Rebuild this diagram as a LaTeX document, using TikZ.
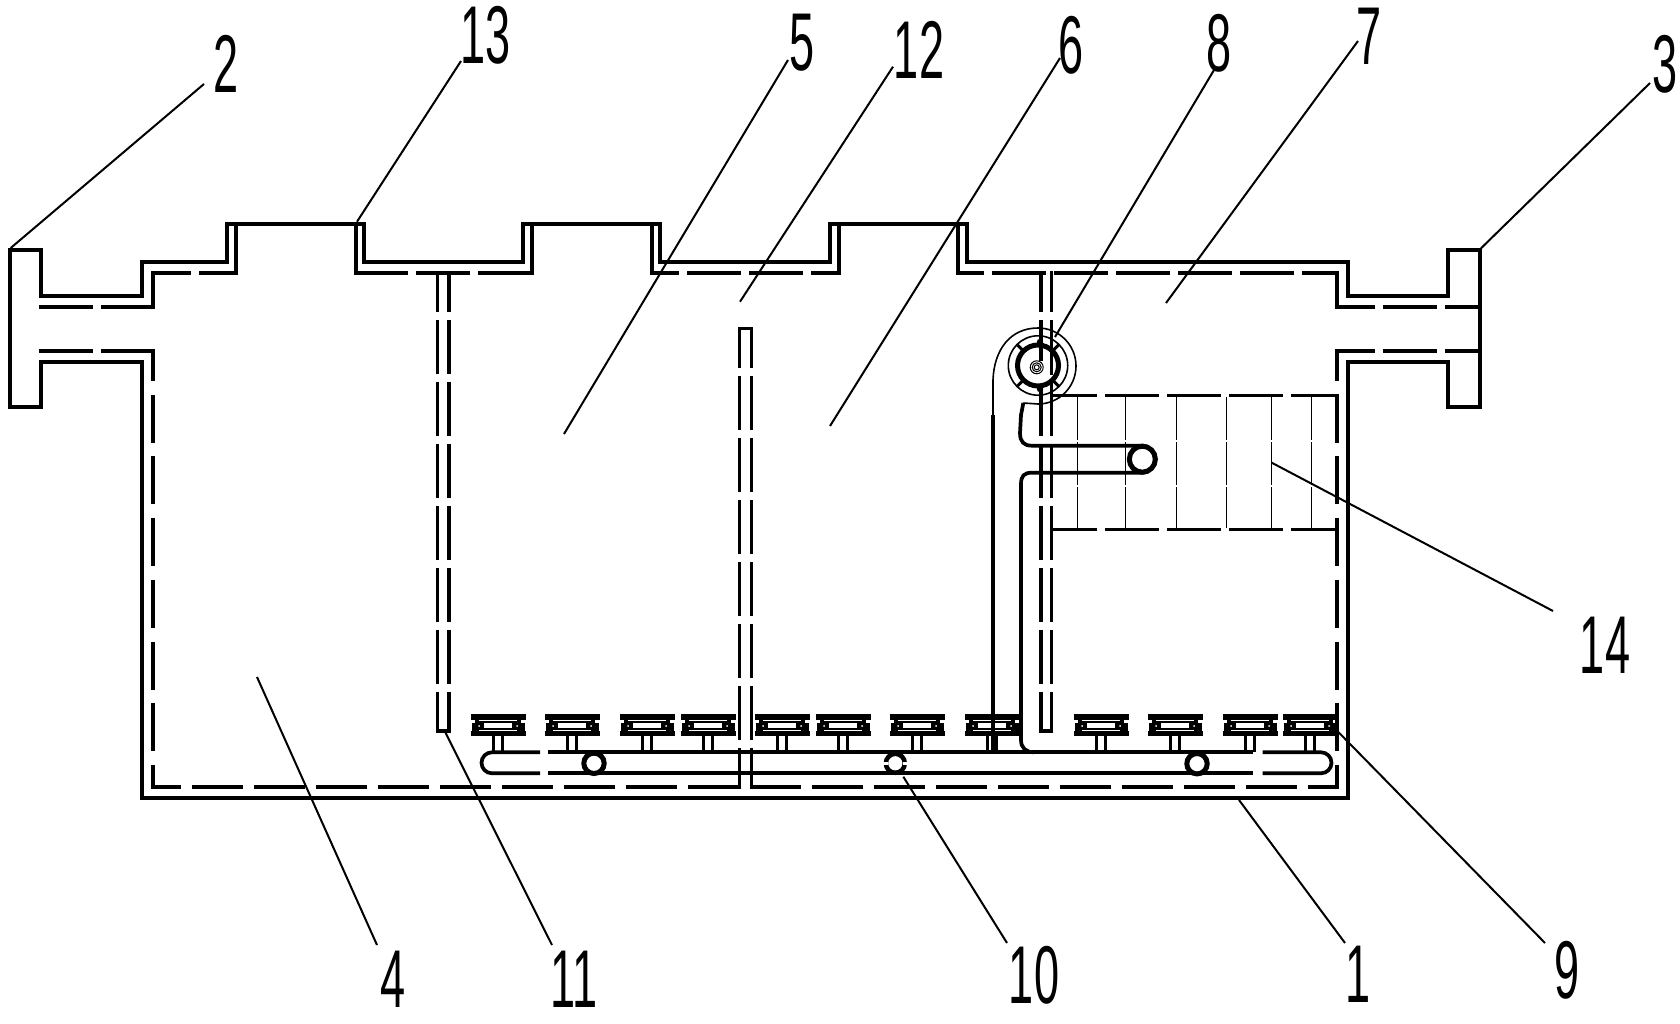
\documentclass[tikz,border=0pt]{standalone}
\usepackage{fontspec}
\setmainfont{Liberation Sans}
\tikzset{
  wall/.style={line width=3.7pt, line join=miter},
  inner/.style={line width=3.4pt, line cap=rect},
  hid/.style={inner, dash pattern=on 50.6pt off 11.4pt},
  vhid/.style={inner, dash pattern=on 44.6pt off 17.1pt},
  bhid/.style={inner, dash pattern=on 47.6pt off 14.4pt},
  leader/.style={line width=2pt},
  hair/.style={line width=1pt, dash pattern=on 43pt off 2pt},
  tag/.style={inner sep=0pt, font=\fontsize{82}{82}\selectfont}
}
\begin{document}
\begin{tikzpicture}[x=1pt, y=-1pt]
        \useasboundingbox[fill=white] (0,0) rectangle (1680,1024);
        \draw[wall] (41,250) -- (10,250) -- (10,407) -- (41,407) -- (41,362) -- (142,362) -- (142,798) -- (1348,798) -- (1348,362) -- (1448,362) -- (1448,407) -- (1480,407) -- (1480,250) -- (1448,250) -- (1448,296) -- (1348,296) -- (1348,262) -- (967,262) -- (967,224) -- (830,224) -- (830,262) -- (660,262) -- (660,224) -- (523,224) -- (523,262) -- (364,262) -- (364,224) -- (227,224) -- (227,262) -- (142,262) -- (142,296) -- (41,296) -- cycle;
        \draw[hid, dash phase=0.3pt] (41,307) -- (153,307);
        \draw[hid, dash phase=0.3pt] (41,351) -- (153,351);
        \draw[inner] (153,307) -- (153,273);
        \draw[inner] (236,273) -- (236,226);
        \draw[inner] (356,226) -- (356,273);
        \draw[inner] (532,273) -- (532,226);
        \draw[inner] (652,226) -- (652,273);
        \draw[inner] (839,273) -- (839,226);
        \draw[inner] (958,226) -- (958,273);
        \draw[inner] (1337,273) -- (1337,307);
        \draw[hid, dash phase=14.3pt] (153,273) -- (236,273);
        \draw[hid] (356,273) -- (532,273);
        \draw[hid, dash phase=25.3pt] (652,273) -- (839,273);
        \draw[hid, dash phase=26.3pt] (958,273) -- (1337,273);
        \draw[hid, dash phase=14.3pt] (1337,307) -- (1478,307);
        \draw[hid, dash phase=14.3pt] (1337,351) -- (1478,351);
        \draw[vhid, dash phase=16.3pt] (153,351) -- (153,787);
        \draw[vhid, dash phase=16.3pt] (1337,351) -- (1337,787);
        \draw[bhid, dash phase=21.3pt] (153,787) -- (739.3,787);
        \draw[bhid] (751.3,787) -- (1337,787);
        \foreach \wx in {437.5,449,1041,1051.7}
            \draw[hid, dash phase=13.6pt] (\wx,273) -- (\wx,731);
        \draw[inner] (437.5,731) -- (449,731);
        \draw[inner] (1041,731) -- (1051.7,731);
        \foreach \wx in {739.3,751.3}
            \draw[hid, dash phase=13pt] (\wx,328.5) -- (\wx,787);
        \draw[inner] (739.3,328.5) -- (751.3,328.5);
        \draw[hid, dash phase=7pt] (1051.7,395.7) -- (1337,395.7);
        \draw[hid, dash phase=7pt] (1051.7,529.7) -- (1337,529.7);
        \foreach \hx in {1077.3,1125.3,1176.3,1226.3,1271.3,1311.3}
            \draw[hair] (\hx,397) -- (\hx,528);
        \foreach \cx in {498,572,647,708,782,843,917,992,1101,1175,1250,1310} {
            \begin{scope}[shift={(\cx,0)}]
                \fill (-27.5,714) rectangle (27.5,719.5);
                \fill (-27.5,731) rectangle (27.5,736);
                \fill (-23,719) rectangle (-14,731.5);
                \fill (14,719) rectangle (23,731.5);
                \fill (-26.5,722.5) rectangle (-23,731.5);
                \fill (23,722.5) rectangle (26.5,731.5);
                \fill (-14,720.8) rectangle (14,722.8);
                \fill (-14,727.8) rectangle (14,729.8);
                \fill[white] (-19,719.6) rectangle (19,720.6);
                \fill[white] (-19,729.9) rectangle (19,730.9);
                \fill[white] (-19,726) circle (1);
                \fill[white] (19,726) circle (1);
                \draw[line width=3pt] (-4.7,736) -- (-4.7,752);
                \draw[line width=3pt] (4.7,736) -- (4.7,752);
            \end{scope}
        }
        \draw[wall] (540,752.3) -- (492,752.3) arc[start angle=-90, end angle=-270, radius=10.5] -- (540,773.3);
        \draw[wall] (548,752.3) -- (1253,752.3);
        \draw[wall] (548,773.3) -- (1253,773.3);
        \draw[wall] (1262.7,752.3) -- (1321,752.3) arc[start angle=-90, end angle=90, radius=10.5] -- (1262.7,773.3);
        \draw[line width=5pt, fill=white] (594,763.3) circle (10.2);
        \draw[line width=5pt, fill=white] (1197,763.7) circle (10.2);
        \draw[line width=4.5pt, fill=white] (895.3,763.3) circle (9.5);
        \fill[white] (881,761.5) rectangle (888,765);
        \fill[white] (902.5,761.5) rectangle (909.5,765);
        \draw[line width=4pt] (993,415) -- (993,752);
        \draw[wall] (1023.3,403) -- (1021,415) -- (1020,433) .. controls (1020,442) and (1024,445.7) .. (1032,445.7) -- (1142,445.7) arc[start angle=-90, end angle=90, radius=13.5] -- (1032,472.7) .. controls (1024,472.7) and (1021,476) .. (1021,484) -- (1021,740) .. controls (1021,748) and (1026,752.3) .. (1034,752.3);
        \draw[line width=5pt, fill=white] (1142.3,459.2) circle (13);
        \draw[line width=1.6pt] (993,415) -- (993,380) .. controls (994,350) and (1010,328) .. (1038,328) arc[start angle=-90, end angle=90, radius=38] -- (1023.3,403);
        \draw[line width=1.6pt] (1038,365.5) circle (29.7);
        \draw[line width=5pt, fill=white] (1038,365.5) circle (20.5);
        \foreach \a in {45,135,225,315}
            \draw[line width=3pt] (1038,365.5) +(\a:22) -- +(\a:29);
        \draw[inner] (1041,346) -- (1041,359);
        \draw[inner] (1051.7,346) -- (1051.7,373);
        \fill (1040,342) circle (3.2);
        \fill (1040,389) circle (3.2);
        \foreach \r in {6.5,4.5,2.5}
            \draw[line width=1pt] (1036.7,367.3) circle (\r);
        \foreach \lab/\tx/\ty/\ax/\ay/\bx/\by in {
            1/1358/974/1239/800/1345/943,
            2/226/64/10.7/248/204/84,
            3/1665/64/1481/248.3/1650/83,
            4/393/979/257/677/377/945,
            5/801.7/42.7/564/434/788/60,
            6/1071/45/830/426/1060/58,
            7/1369/36/1166/303/1358/41,
            8/1219/43/1055/337/1214/70,
            9/1567/970/1338/731.7/1545/943,
            10/1034/975/903.3/776.7/1007/943,
            11/574/979/445/731.7/552/945,
            12/919/50/740/301.7/893/66.7,
            13/486/35/357/221.7/461/61,
            14/1605/645/1271.7/462.7/1553/611} {
            \node[tag] (t\lab) at (\tx,\ty) {\scalebox{.55}[1]{\lab}};
            \coordinate (a\lab) at (\ax,\ay);
            \coordinate (b\lab) at (\bx,\by);
            \draw[leader] (a\lab) -- (b\lab);
        }
    \end{tikzpicture}
\end{document}
